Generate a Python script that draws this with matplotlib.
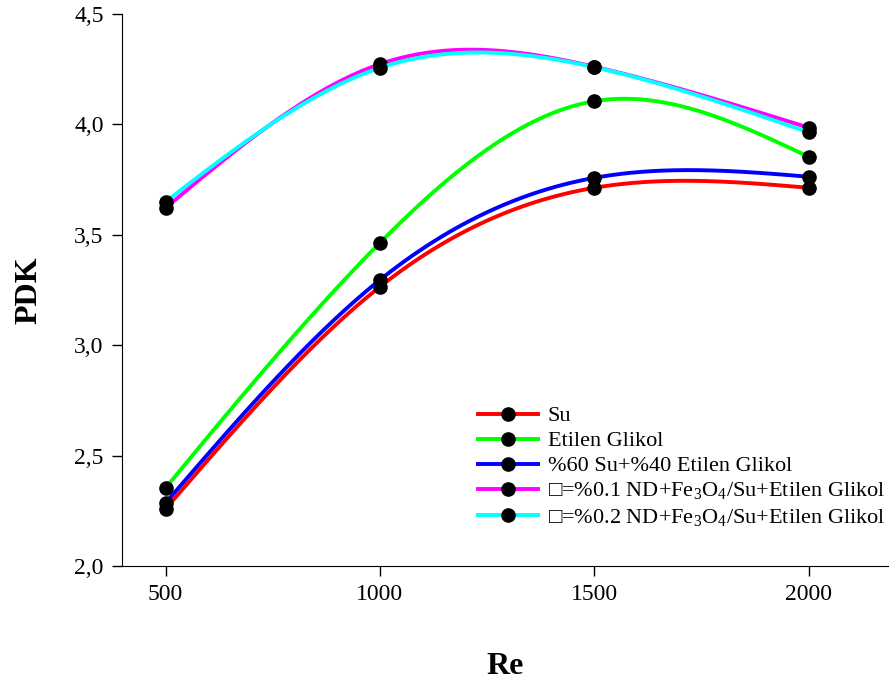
import matplotlib
matplotlib.use("Agg")
import matplotlib.pyplot as plt
import numpy as np

plt.rcParams['font.family'] = ['Liberation Serif', 'DejaVu Sans']
plt.rcParams['mathtext.fontset'] = 'custom'
plt.rcParams['mathtext.rm'] = 'Liberation Serif'

re = [500, 1000, 1500, 2000]
su = [2.258, 3.264, 3.712, 3.712]
etilen = [2.353, 3.463, 4.104, 3.852]
karisim = [2.285, 3.295, 3.757, 3.762]
nd01 = [3.621, 4.272, 4.260, 3.984]
nd02 = [3.649, 4.255, 4.258, 3.963]

names = ["Su", "Etilen Glikol", "%60 Su+%40 Etilen Glikol",
         "\u25a1=%0.1 ND+Fe$_3$O$_4$/Su+Etilen Glikol",
         "\u25a1=%0.2 ND+Fe$_3$O$_4$/Su+Etilen Glikol"]
colors = ["#ff0000", "#00ff00", "#0000ff", "#ff00ff", "#00ffff"]
ticks_y = ["2,0", "2,5", "3,0", "3,5", "4,0", "4,5"]


def spline(x, y, xs):
    # dogal kubik spline (SigmaPlot gibi yumusak egri)
    x = np.asarray(x, float)
    y = np.asarray(y, float)
    n = len(x)
    h = np.diff(x)
    A = np.zeros((n, n))
    b = np.zeros(n)
    A[0, 0] = A[-1, -1] = 1
    for i in range(1, n - 1):
        A[i, i - 1] = h[i - 1]
        A[i, i] = 2 * (h[i - 1] + h[i])
        A[i, i + 1] = h[i]
        b[i] = 6 * ((y[i + 1] - y[i]) / h[i] - (y[i] - y[i - 1]) / h[i - 1])
    M = np.linalg.solve(A, b)
    k = np.clip(np.searchsorted(x, xs) - 1, 0, n - 2)
    t1 = x[k + 1] - xs
    t2 = xs - x[k]
    return (M[k] * t1**3 / (6 * h[k]) + M[k + 1] * t2**3 / (6 * h[k])
            + (y[k] / h[k] - M[k] * h[k] / 6) * t1
            + (y[k + 1] / h[k] - M[k + 1] * h[k] / 6) * t2)


fig = plt.figure(figsize=(8.89, 6.86), dpi=100)
ax = fig.add_axes([0.137, 0.175, 0.862, 0.805])

xs = np.linspace(re[0], re[-1], 300)
for vals, name, c in zip([su, etilen, karisim, nd01, nd02], names, colors):
    ax.plot(xs, spline(re, vals, xs), color=c, lw=2.8)
    ax.plot(re, vals, "o", color="black", ms=9.5)
    ax.plot([], [], color=c, lw=2.8, marker="o", mfc="black", mec="black",
            ms=9.5, label=name)

ax.set_xlim(398, 2185)
ax.set_ylim(2.0, 4.5)
ax.set_xticks(re)
ax.set_yticks(np.arange(2.0, 4.51, 0.5))
ax.set_yticklabels(ticks_y)
ax.tick_params(labelsize=17, direction="out", length=7, width=1, pad=6)
ax.spines["top"].set_visible(False)
ax.spines["right"].set_visible(False)
ax.set_xlabel("Re", fontsize=23, fontweight="bold", labelpad=34)
ax.set_ylabel("PDK", fontsize=23, fontweight="bold", labelpad=22)

ax.legend(loc="upper left", bbox_to_anchor=(0.45, 0.31), frameon=False,
          fontsize=16, handlelength=2.7, borderpad=0, labelspacing=0.2,
          handletextpad=0.45)

fig.savefig("out.png", dpi=100)
